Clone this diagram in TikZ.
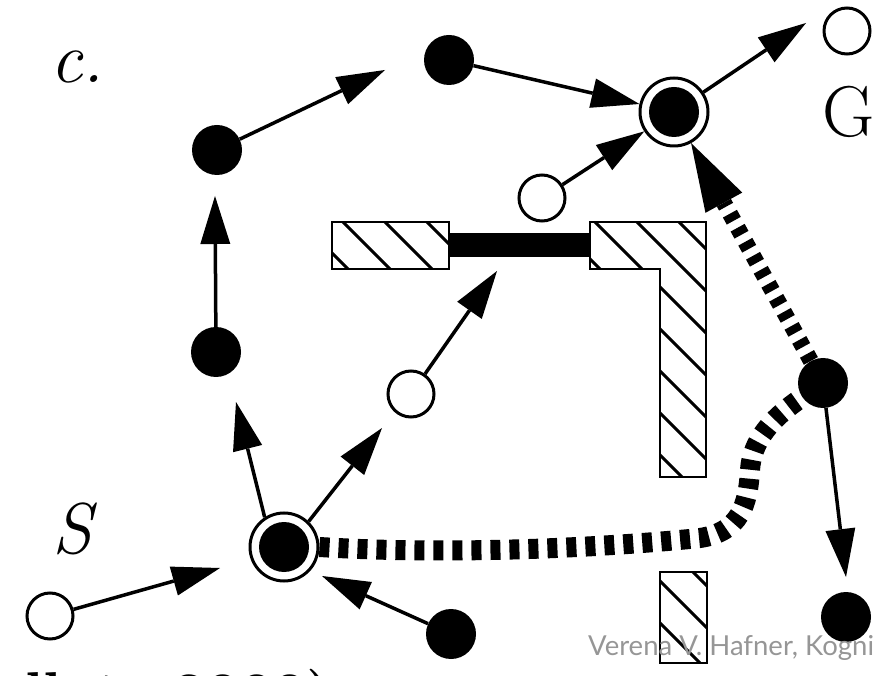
\documentclass[tikz,border=0pt]{standalone}
\usepackage{fontspec}
\newfontfamily\wmfont{Lato}
\usetikzlibrary{arrows.meta}
\definecolor{wmgray}{RGB}{150,150,150}
\begin{document}
\begin{tikzpicture}[x=1pt,y=-1pt,
 full/.style={circle, fill=black, minimum size=50pt, inner sep=0pt},
 hollow/.style={circle, draw=black, line width=3pt, minimum size=46pt, inner sep=0pt},
 ring/.style={circle, draw=black, line width=3pt, minimum size=68pt, inner sep=0pt, fill=white},
 core/.style={circle, fill=black, minimum size=50pt, inner sep=0pt},
 arr/.style={line width=3.5pt, -{Triangle[length=48pt,width=30pt,line width=0pt]}},
 bigarr/.style={line width=16pt, dash pattern=on 8pt off 8pt, -{Triangle[length=68pt,width=42pt,line width=0pt]}},
 dotpath/.style={line width=20pt, dash pattern=on 10pt off 9pt},
 wall/.style={draw=black, line width=2.5pt},
 hatch/.style={line width=3pt},
 lbl/.style={font=\rmfamily\fontsize{72}{80}\selectfont\addfontfeatures{FakeBold=1.5}, inner sep=0pt},
 lblit/.style={font=\rmfamily\itshape\fontsize{72}{80}\selectfont\addfontfeatures{FakeBold=1.5}, inner sep=0pt},
]
\useasboundingbox (0,0) rectangle (876,676);
\clip (0,0) rectangle (876,676);

% walls
\begin{scope}
 \clip (332,222) rectangle (449,269);
 \foreach \c in {-583,-541,...,400} \draw[hatch] ({300},{300+(\c)}) -- ({760},{760+(\c)});
\end{scope}
\draw[wall] (332,222) rectangle (449,269);
\begin{scope}
 \clip (590,222) -- (706,222) -- (706,477) -- (660,477) -- (660,269) -- (590,269) -- cycle;
 \foreach \c in {-583,-541,...,400} \draw[hatch] ({300},{300+(\c)}) -- ({760},{760+(\c)});
\end{scope}
\draw[wall] (590,222) -- (706,222) -- (706,477) -- (660,477) -- (660,269) -- (590,269) -- cycle;
\begin{scope}
 \clip (660,572) rectangle (707,663);
 \foreach \c in {-583,-541,...,400} \draw[hatch] ({300},{300+(\c)}) -- ({760},{760+(\c)});
\end{scope}
\draw[wall] (660,572) rectangle (707,663);
\fill (449,233) rectangle (590,257);

% places
\node[full] (TL) at (217,150) {};
\node[full] (TM) at (449,60) {};
\node[ring] (G) at (674,112) {};
\node[core] (Gc) at (674,112) {};
\node[hollow] (TR) at (847,31) {};
\node[hollow] (OG) at (542,198) {};
\node[hollow] (OM) at (411,394) {};
\node[full] (LM) at (216,352) {};
\node[ring] (S) at (284,547) {};
\node[core] (Sc) at (284,547) {};
\node[hollow] (BL) at (50,616) {};
\node[full] (BM) at (451,634) {};
\node[full] (R) at (823,383) {};
\node[full] (BR) at (846,617) {};

% free arrow ends
\coordinate (t1) at (385,70);
\coordinate (t4) at (806,23);
\coordinate (t5) at (215,196);
\coordinate (t6) at (236,402);
\coordinate (t7) at (382,428);
\coordinate (t8) at (497,271);
\coordinate (t9) at (220,568);
\coordinate (t10) at (322,576);
\coordinate (t11) at (846,577);

\draw[arr] (TL) -- (t1);
\draw[arr] (TM) -- (G);
\draw[arr] (OG) -- (G);
\draw[arr] (G) -- (t4);
\draw[arr] (LM) -- (t5);
\draw[arr] (S.123) -- (t6);
\draw[arr] (S.46) -- (t7);
\draw[arr] (OM) -- (t8);
\draw[arr] (BL) -- (t9);
\draw[arr] (BM) -- (t10);
\draw[arr] (R) -- (t11);
\draw[bigarr] (R) -- (G);
\draw[dotpath] (S.east) .. controls (450,555) and (600,548) .. (700,538)
  .. controls (740,532) and (748,505) .. (750,470)
  .. controls (752,440) and (772,418) .. (R);

% labels
\node[lblit] (lc) at (77,67) {c.};
\node[lblit] (lS) at (72,529) {S};
\node[lbl] (lG) at (849,112) {G};

\node[anchor=base west, inner sep=0pt, font=\rmfamily\bfseries\fontsize{59}{66}\selectfont] (cite) at (25,713) {\llap{Ma}llot,\hspace{34pt}2000)};
\node[anchor=base west, inner sep=0pt, font=\wmfont\fontsize{27.5}{33}\selectfont, text=wmgray] (wm) at (588,655) {Verena V. Hafner, Kogni};
\end{tikzpicture}
\end{document}
